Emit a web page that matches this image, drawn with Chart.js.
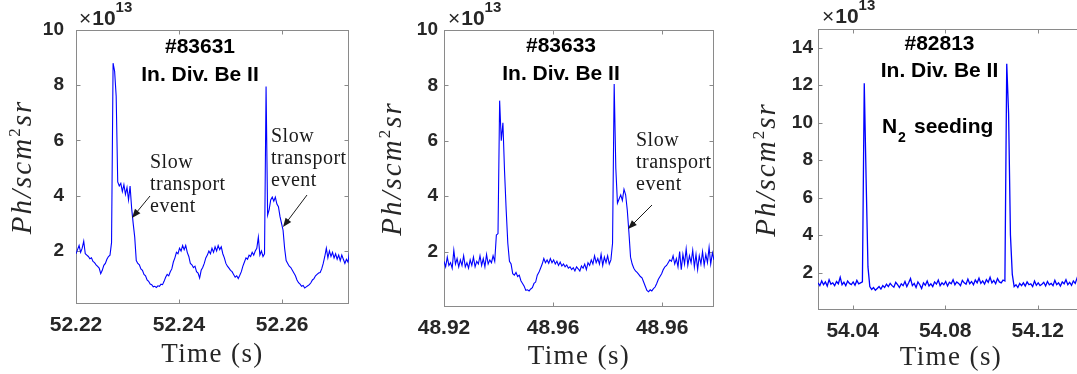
<!DOCTYPE html>
<html>
<head>
<meta charset="utf-8">
<script src="https://cdn.jsdelivr.net/npm/chart.js@4.4.1/dist/chart.umd.min.js"></script>
<style>
  html, body { margin: 0; padding: 0; background: #fff; overflow: hidden; }
  body { width: 1077px; height: 374px; position: relative; }
  canvas { position: absolute; top: 0; }
</style>
</head>
<body>
<canvas id="c1" width="360" height="374" style="left:0px"></canvas>
<canvas id="c2" width="360" height="374" style="left:360px"></canvas>
<canvas id="c3" width="380" height="374" style="left:720px"></canvas>
<script>
// ----- Data (intensity in units of 1e13 Ph/s cm^2 sr) -----
const shot1Name = "#83631";
const shot1Start = 52.22;
const shot1Step = 0.0003;
const shot1Values = [
  1.90,2.05,2.20,1.95,2.10,2.35,1.90,1.85,1.80,1.72,
  1.75,1.62,1.58,1.50,1.44,1.38,1.18,1.30,1.48,1.55,
  1.70,1.80,1.85,2.30,8.80,8.50,7.60,4.50,4.35,4.45,
  4.15,4.40,4.05,4.30,3.85,4.35,3.55,3.00,2.50,1.65,
  1.55,1.50,1.35,1.30,1.15,1.10,0.95,0.90,0.80,0.78,
  0.70,0.72,0.68,0.74,0.72,0.80,0.78,0.90,1.05,1.15,
  1.10,1.25,1.35,1.60,1.75,1.95,1.90,2.10,2.00,2.20,
  2.05,2.20,1.95,1.80,1.55,1.50,1.40,1.45,1.25,1.20,
  1.02,1.30,1.40,1.55,1.75,1.85,2.00,1.90,2.10,1.95,
  2.15,2.00,2.20,2.05,2.15,1.90,1.75,1.55,1.45,1.38,
  1.30,1.25,1.15,1.05,1.10,1.00,1.12,1.25,1.45,1.60,
  1.75,1.70,1.85,1.80,1.95,1.85,2.00,2.10,2.50,1.85,
  2.00,1.80,1.90,7.95,3.30,3.50,3.85,3.95,3.80,3.95,
  3.70,3.60,3.25,3.00,2.75,2.10,1.65,1.55,1.45,1.40,
  1.30,1.20,1.10,0.95,0.85,0.80,0.72,0.75,0.66,0.70,
  0.74,0.78,0.85,0.95,1.00,1.10,1.15,1.20,1.22,1.35,
  1.55,1.80,2.10,1.75,2.00,1.80,1.95,1.75,1.90,1.70,
  1.85,1.65,1.85,1.70,1.55,1.70,1.60,1.95
];
const shot1XTicks = [52.22, 52.24, 52.26];
const shot1XLabels = ["52.22", "52.24", "52.26"];

const shot2Name = "#83633";
const shot2Start = 48.92;
const shot2Step = 0.0003;
const shot2Values = [
  1.65,1.45,1.80,1.50,1.60,1.40,2.05,1.55,1.75,1.45,
  1.70,1.50,1.85,1.45,1.60,1.40,1.70,1.50,1.80,1.45,
  1.65,1.55,1.85,1.50,1.75,1.45,1.90,1.55,1.70,1.60,
  1.85,1.65,2.60,2.65,7.45,6.00,6.65,4.90,3.50,2.30,
  1.65,1.55,1.20,1.15,1.25,1.10,1.15,0.95,0.85,0.75,
  0.60,0.62,0.58,0.65,0.70,0.85,0.90,1.15,1.25,1.40,
  1.55,1.75,1.60,1.70,1.58,1.75,1.60,1.70,1.55,1.65,
  1.50,1.62,1.48,1.55,1.45,1.52,1.40,1.45,1.35,1.42,
  1.30,1.45,1.38,1.30,1.48,1.40,1.55,1.35,1.60,1.50,
  1.70,1.55,1.85,1.60,1.75,1.55,1.90,1.50,1.80,1.60,
  1.85,1.55,1.70,2.30,8.05,5.00,3.75,3.90,4.05,3.85,
  4.25,4.05,3.50,2.70,1.80,1.55,1.40,1.30,1.25,1.18,
  1.10,1.05,0.90,0.75,0.60,0.55,0.62,0.58,0.66,0.72,
  0.85,1.00,1.10,1.20,1.35,1.45,1.50,1.60,1.70,1.65,
  1.85,1.55,1.75,1.45,2.00,1.35,1.90,1.55,2.10,1.50,
  1.85,1.60,2.05,1.45,1.90,1.35,1.85,1.55,2.00,1.50,
  1.90,1.60,2.15,1.55,1.95,1.70
];
const shot2XTicks = [48.92, 48.94, 48.96];
const shot2XLabels = ["48.92", "48.96", "48.96"];

const shot3Name = "#82813";
const shot3Start = 54.025;
const shot3Step = 0.0008;
const shot3Values = [
  1.45,1.30,1.55,1.35,1.50,1.28,1.62,1.38,1.45,1.30,
  1.52,1.40,1.75,1.35,1.48,1.30,1.55,1.42,1.36,1.50,
  1.32,1.58,1.40,1.45,1.50,12.10,7.00,2.30,1.25,1.10,
  1.20,1.05,1.15,1.25,1.12,1.30,1.20,1.38,1.25,1.42,
  1.30,1.22,1.48,1.35,1.20,1.40,1.30,1.52,1.25,1.45,
  1.68,1.30,1.42,1.20,1.50,1.35,1.15,1.45,1.32,1.55,
  1.28,1.40,1.25,1.50,1.38,1.60,1.30,1.45,1.35,1.52,
  1.28,1.48,1.40,1.62,1.35,1.50,1.42,1.30,1.58,1.45,
  1.38,1.65,1.40,1.52,1.35,1.60,1.45,1.70,1.42,1.55,
  1.38,1.62,1.48,1.75,1.45,1.58,1.40,1.68,1.50,1.45,
  1.60,1.55,13.15,10.50,4.00,1.90,1.25,1.35,1.20,1.42,
  1.30,1.45,1.28,1.50,1.35,1.40,1.25,1.55,1.32,1.45,
  1.30,1.38,1.48,1.28,1.52,1.35,1.42,1.30,1.58,1.35,
  1.45,1.28,1.50,1.40,1.62,1.35,1.48,1.32,1.55,1.42,
  1.70,1.38,1.50,1.45
];
const shot3XTicks = [54.04, 54.08, 54.12];
const shot3XLabels = ["54.04", "54.08", "54.12"];

const yTicks10 = [2, 4, 6, 8, 10];
const yTicks15 = [2, 4, 6, 8, 10, 12, 14];
const lineLabel = "In. Div. Be II";
const noteLines = ["Slow", "transport", "event"];

// ----- Helpers -----
Chart.defaults.font.family = '"Liberation Sans", Arial, sans-serif';

function toPoints(start, step, values) {
  return values.map((v, i) => ({ x: start + i * step, y: v }));
}

function drawArrow(ctx, x0, y0, x1, y1) {
  const ang = Math.atan2(y1 - y0, x1 - x0);
  const len = 9, half = 3.5;
  ctx.beginPath();
  ctx.moveTo(x0, y0);
  ctx.lineTo(x1 - len * 0.8 * Math.cos(ang), y1 - len * 0.8 * Math.sin(ang));
  ctx.stroke();
  ctx.beginPath();
  ctx.moveTo(x1, y1);
  ctx.lineTo(x1 - len * Math.cos(ang) + half * Math.sin(ang), y1 - len * Math.sin(ang) - half * Math.cos(ang));
  ctx.lineTo(x1 - len * Math.cos(ang) - half * Math.sin(ang), y1 - len * Math.sin(ang) + half * Math.cos(ang));
  ctx.closePath();
  ctx.fill();
}

// ----- Box, inner ticks and all the extra text -----
const panelDecor = {
  id: "panelDecor",
  beforeDatasetsDraw(chart) {
    const ctx = chart.ctx;
    const a = chart.chartArea;
    const xs = chart.scales.x, ys = chart.scales.y;
    const L = Math.round(a.left) + 0.5, R = Math.round(a.right) - 0.5;
    const T = Math.round(a.top) + 0.5, B = Math.round(a.bottom) - 0.5;
    ctx.save();
    ctx.strokeStyle = "#8a8a8a";
    ctx.lineWidth = 1;
    ctx.strokeRect(L, T, R - L, B - T);
    ctx.beginPath();
    xs.ticks.forEach(t => {
      const px = Math.round(xs.getPixelForValue(t.value)) + 0.5;
      ctx.moveTo(px, B); ctx.lineTo(px, B - 4);
      ctx.moveTo(px, T); ctx.lineTo(px, T + 4);
    });
    ys.ticks.forEach(t => {
      const py = Math.round(ys.getPixelForValue(t.value)) + 0.5;
      ctx.moveTo(L, py); ctx.lineTo(L + 4, py);
      ctx.moveTo(R, py); ctx.lineTo(R - 4, py);
    });
    ctx.stroke();
    ctx.restore();
  },
  afterDraw(chart, args, o) {
    const ctx = chart.ctx;
    const a = chart.chartArea;
    ctx.save();

    // exponent
    ctx.fillStyle = "#262626";
    ctx.textBaseline = "alphabetic";
    ctx.textAlign = "left";
    ctx.font = '21px "Liberation Sans"';
    ctx.fillText("\u00d7", o.expX, o.expY);
    let ex = o.expX + ctx.measureText("\u00d7").width + 1;
    ctx.font = 'bold 21px "Liberation Sans"';
    ctx.fillText("10", ex, o.expY);
    ex += ctx.measureText("10").width;
    ctx.font = 'bold 15px "Liberation Sans"';
    ctx.fillText("13", ex, o.expY - 13);

    // shot titles
    ctx.fillStyle = "#000";
    ctx.textAlign = "center";
    ctx.font = 'bold 21px "Liberation Sans"';
    ctx.fillText(o.shot, o.titleX, o.titleY[0]);
    ctx.fillText(lineLabel, o.titleX, o.titleY[1]);

    if (o.seeding) {
      ctx.textAlign = "left";
      const s = o.seeding;
      ctx.fillText("N", s.x, s.y);
      ctx.font = 'bold 14px "Liberation Sans"';
      ctx.fillText("2", s.x + 16, s.y + 9);
      ctx.font = 'bold 21px "Liberation Sans"';
      ctx.fillText("seeding", s.x + 32, s.y);
    }

    // slow transport notes
    ctx.fillStyle = "#1a1a1a";
    ctx.strokeStyle = "#1a1a1a";
    ctx.lineWidth = 1;
    ctx.textAlign = "left";
    ctx.font = '20px "Liberation Serif"';
    ctx.letterSpacing = "0.5px";
    (o.notes || []).forEach(n => {
      noteLines.forEach((t, i) => ctx.fillText(t, n.x, n.y + i * 22));
      drawArrow(ctx, n.arrow[0], n.arrow[1], n.arrow[2], n.arrow[3]);
    });

    // x title
    ctx.fillStyle = "#262626";
    ctx.textAlign = "center";
    ctx.font = '27px "Liberation Serif"';
    ctx.letterSpacing = "1.4px";
    ctx.fillText("Time (s)", (a.left + a.right) / 2, o.xTitleY);

    // y title, rotated
    const cy = (a.top + a.bottom) / 2;
    ctx.translate(o.yTitleX, cy);
    ctx.rotate(-Math.PI / 2);
    ctx.textAlign = "left";
    ctx.letterSpacing = "2px";
    const big = 'italic 29px "Liberation Serif"', small = '17px "Liberation Serif"';
    ctx.font = big;
    const w1 = ctx.measureText("Ph/scm").width, w3 = ctx.measureText("sr").width;
    ctx.font = small;
    const w2 = ctx.measureText("2").width;
    let x = -(w1 + w2 + w3) / 2;
    ctx.font = big; ctx.fillText("Ph/scm", x, 0); x += w1;
    ctx.font = small; ctx.fillText("2", x, -11); x += w2;
    ctx.font = big; ctx.fillText("sr", x, 0);

    ctx.restore();
  }
};

function buildPanel(id, p) {
  const tickColor = "#262626";
  return new Chart(document.getElementById(id), {
    type: "line",
    data: {
      datasets: [{
        data: p.points,
        borderColor: "#0000ff",
        borderWidth: p.lineWidth,
        pointRadius: 0,
        tension: 0
      }]
    },
    options: {
      responsive: false,
      animation: false,
      devicePixelRatio: 1,
      layout: { padding: { top: p.padTop, right: p.padRight, left: 0, bottom: 0 } },
      plugins: {
        legend: { display: false },
        tooltip: { enabled: false },
        panelDecor: p.decor
      },
      scales: {
        x: {
          type: "linear",
          min: p.xMin,
          max: p.xMax,
          grid: { display: false, drawTicks: false },
          border: { display: false },
          afterBuildTicks: s => { s.ticks = p.xTicks.map(v => ({ value: v })); },
          afterFit: s => { s.height = p.xAxisHeight; },
          ticks: {
            autoSkip: false,
            maxRotation: 0,
            padding: 9,
            color: tickColor,
            font: { size: 21, weight: "bold" },
            callback: (v, i) => p.xLabels[i]
          }
        },
        y: {
          min: p.yMin,
          max: p.yMax,
          grid: { display: false, drawTicks: false },
          border: { display: false },
          afterBuildTicks: s => { s.ticks = p.yTicks.map(v => ({ value: v })); },
          afterFit: s => { s.width = p.yAxisWidth; },
          ticks: {
            autoSkip: false,
            padding: p.yPad,
            color: tickColor,
            font: { size: 19, weight: "bold" },
            callback: v => String(v)
          }
        }
      }
    },
    plugins: [panelDecor]
  });
}

buildPanel("c1", {
  points: toPoints(shot1Start, shot1Step, shot1Values), lineWidth: 1.1,
  xMin: 52.22, xMax: 52.273, yMin: 0.08, yMax: 10,
  xTicks: shot1XTicks, xLabels: shot1XLabels, yTicks: yTicks10,
  padTop: 30, padRight: 11, yAxisWidth: 76, xAxisHeight: 70, yPad: 12,
  decor: {
    shot: shot1Name, titleX: 200, titleY: [53, 81],
    expX: 79, expY: 25, yTitleX: 31, xTitleY: 362,
    notes: [
      { x: 150, y: 168, arrow: [150, 196, 132, 218] },
      { x: 271, y: 142, arrow: [307, 195, 283, 227] }
    ]
  }
});

buildPanel("c2", {
  points: toPoints(shot2Start, shot2Step, shot2Values), lineWidth: 1.1,
  xMin: 48.92, xMax: 48.9695, yMin: 0, yMax: 10,
  xTicks: shot2XTicks, xLabels: shot2XLabels, yTicks: yTicks10,
  padTop: 30, padRight: 6, yAxisWidth: 84, xAxisHeight: 67, yPad: 6,
  decor: {
    shot: shot2Name, titleX: 201, titleY: [52, 80],
    expX: 88, expY: 25, yTitleX: 41, xTitleY: 364,
    notes: [
      { x: 276, y: 146, arrow: [292, 205, 268, 229] }
    ]
  }
});

buildPanel("c3", {
  points: toPoints(shot3Start, shot3Step, shot3Values), lineWidth: 1.3,
  xMin: 54.025, xMax: 54.14, yMin: 0, yMax: 15,
  xTicks: shot3XTicks, xLabels: shot3XLabels, yTicks: yTicks15,
  padTop: 29, padRight: 16, yAxisWidth: 98, xAxisHeight: 64, yPad: 5,
  decor: {
    shot: shot3Name, titleX: 219.5, titleY: [50, 77],
    expX: 102, expY: 23, yTitleX: 55, xTitleY: 365,
    seeding: { x: 162, y: 133 }
  }
});
</script>
</body>
</html>
